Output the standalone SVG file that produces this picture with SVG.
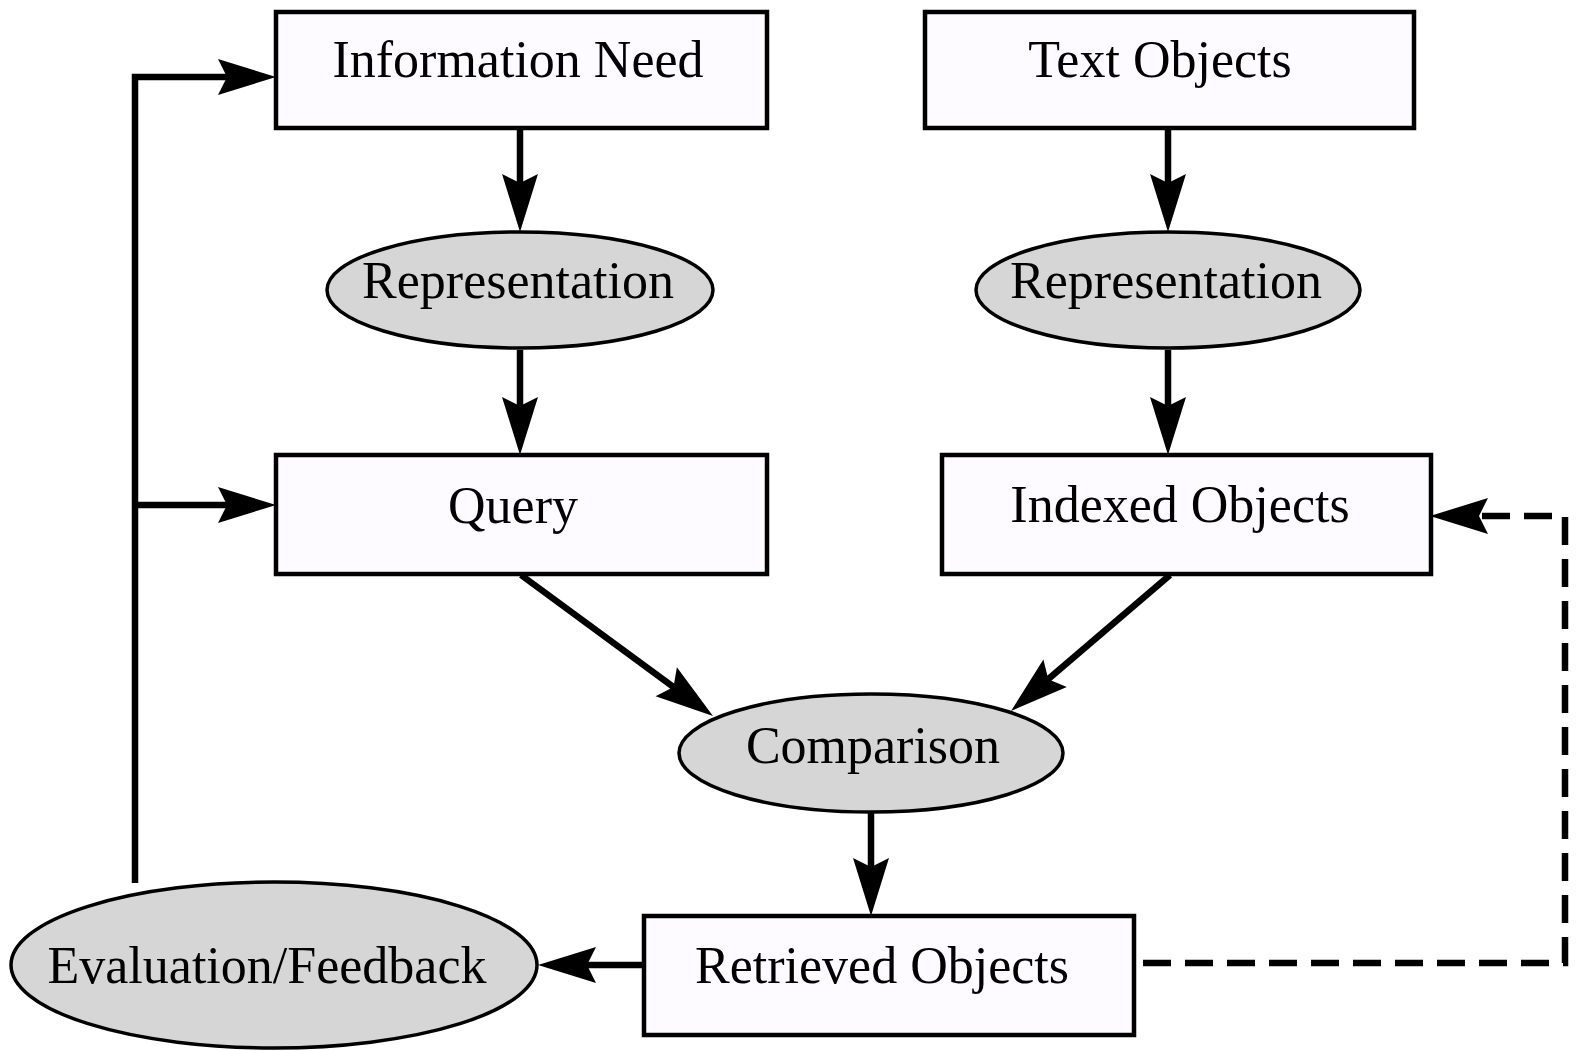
<svg xmlns="http://www.w3.org/2000/svg" width="1578" height="1051" viewBox="0 0 1578 1051">
<style>
.box{fill:#fdfbff;stroke:#000;stroke-width:4.5}
.oval{fill:#d6d6d6;stroke:#000;stroke-width:3.5}
.lbl{font-family:"Liberation Serif","Times New Roman",serif;font-size:52px;fill:#000;text-anchor:middle}
.edge{fill:none;stroke:#000;stroke-width:6.5;marker-end:url(#ah)}
.dash{stroke-dasharray:28 14;stroke-width:6.5}
</style>
<defs>
<marker id="ah" markerUnits="userSpaceOnUse" markerWidth="62" markerHeight="40" refX="10" refY="20" orient="auto" overflow="visible">
<path d="M0,2 L58,20 L0,38 L9,20 Z" fill="#000"/>
</marker>
</defs>
<rect width="1578" height="1051" fill="#fff"/>
<g id="connectors">
<path class="edge" d="M520,128 L520,184"/>
<path class="edge" d="M520,350 L520,407"/>
<path class="edge" d="M1168,128 L1168,184"/>
<path class="edge" d="M1168,350 L1168,407"/>
<path class="edge" d="M521,575 L674.3,687.6"/>
<path class="edge" d="M1170,575 L1047.5,679.8"/>
<path class="edge" d="M871,812 L871,868"/>
<path class="edge" d="M644,965 L586,965"/>
<path class="edge" d="M135,883 L135,77 L228,77"/>
<path class="edge" d="M135,505 L228,505"/>
<path class="edge dash" d="M1143,963 L1565,963 L1565,516 L1478,516"/>
</g>
<g id="information-need">
<rect class="box" x="276" y="12" width="491" height="116"/>
<text class="lbl" x="518" y="77">Information Need</text>
</g>
<g id="text-objects">
<rect class="box" x="925" y="12" width="489" height="116"/>
<text class="lbl" x="1160" y="77">Text Objects</text>
</g>
<g id="representation-query">
<ellipse class="oval" cx="520" cy="290" rx="193" ry="58"/>
<text class="lbl" x="518" y="298">Representation</text>
</g>
<g id="representation-text">
<ellipse class="oval" cx="1168" cy="290" rx="192" ry="58"/>
<text class="lbl" x="1166" y="298">Representation</text>
</g>
<g id="query">
<rect class="box" x="276" y="455" width="491" height="119"/>
<text class="lbl" x="513" y="523">Query</text>
</g>
<g id="indexed-objects">
<rect class="box" x="942" y="455" width="489" height="119"/>
<text class="lbl" x="1180" y="522">Indexed Objects</text>
</g>
<g id="comparison">
<ellipse class="oval" cx="871" cy="753" rx="192" ry="59"/>
<text class="lbl" x="873" y="763">Comparison</text>
</g>
<g id="retrieved-objects">
<rect class="box" x="644" y="916" width="490" height="119"/>
<text class="lbl" x="882" y="983">Retrieved Objects</text>
</g>
<g id="evaluation-feedback">
<ellipse class="oval" cx="274" cy="965" rx="263" ry="83"/>
<text class="lbl" x="267" y="983">Evaluation/Feedback</text>
</g>
</svg>
